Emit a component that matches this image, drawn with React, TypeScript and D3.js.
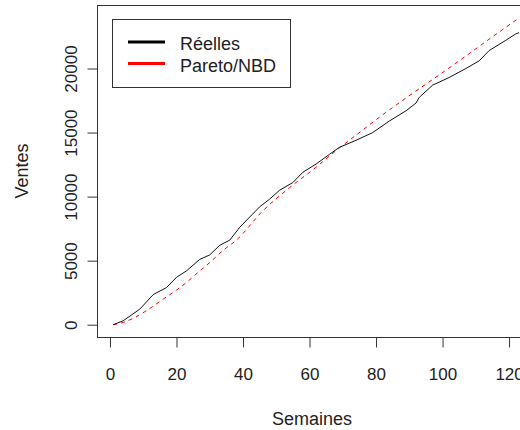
import * as d3 from "d3";
import { useEffect, useRef } from "react";

// weekly cumulative sales
const weeksReel = [1, 4, 9, 13, 17, 20, 23, 27, 30, 33, 36, 39, 42, 45, 48, 51, 55, 58, 62, 66, 69, 74, 79, 84, 89, 92, 93, 97, 102, 107, 111, 114, 119, 122, 123];
const ventesReel = [0, 310, 1220, 2350, 2900, 3700, 4200, 5100, 5450, 6200, 6600, 7600, 8400, 9200, 9800, 10500, 11100, 11900, 12550, 13300, 13850, 14400, 15000, 15900, 16700, 17300, 17750, 18700, 19300, 20000, 20600, 21400, 22200, 22700, 22800];

const weeksModel = [1, 4, 11, 16, 20, 23, 27, 30, 34, 38, 46, 54, 62, 68, 74, 80, 89, 99, 109, 117, 123];
const ventesModel = [0, 180, 1100, 2000, 2700, 3300, 4200, 4850, 5800, 6600, 8900, 10700, 12300, 13600, 14800, 16000, 17700, 19500, 21350, 22850, 23950];

const xTicks = [0, 20, 40, 60, 80, 100, 120];
const yTicks = [0, 5000, 10000, 15000, 20000];
const legendLabels = ["Réelles", "Pareto/NBD"];
const legendColors = ["black", "red"];

const xlim = [1, 123.5];
const ylim = [0, 24000];

export default function App() {
    const ref = useRef<SVGSVGElement>(null);

    useEffect(() => {
        const svg = d3.select(ref.current);
        svg.selectAll("*").remove();

        const left = 97, right = 537, top = 5, bottom = 337;
        const font = "'Liberation Sans', Arial, sans-serif";

        // R style 4% padding on each side
        const padX = (xlim[1] - xlim[0]) * 0.04;
        const padY = (ylim[1] - ylim[0]) * 0.04;
        const x = d3.scaleLinear().domain([xlim[0] - padX, xlim[1] + padX]).range([left, right]);
        const y = d3.scaleLinear().domain([ylim[0] - padY, ylim[1] + padY]).range([bottom, top]);

        const line = d3.line<[number, number]>().x(d => x(d[0])).y(d => y(d[1]));

        svg.append("path")
            .datum(weeksModel.map((w, i) => [w, ventesModel[i]] as [number, number]))
            .attr("d", line.curve(d3.curveMonotoneX))
            .attr("fill", "none")
            .attr("stroke", "red")
            .attr("stroke-width", 1)
            .attr("stroke-dasharray", "4,4");

        svg.append("path")
            .datum(weeksReel.map((w, i) => [w, ventesReel[i]] as [number, number]))
            .attr("d", line.curve(d3.curveLinear))
            .attr("fill", "none")
            .attr("stroke", "#111")
            .attr("stroke-width", 1);

        svg.append("rect")
            .attr("x", left + 0.5).attr("y", top + 0.5)
            .attr("width", right - left).attr("height", bottom - top)
            .attr("fill", "none").attr("stroke", "#333");

        // x axis
        const xa = svg.append("g").attr("transform", `translate(0,${bottom + 0.5})`)
            .call(d3.axisBottom(x).tickValues(xTicks).tickSize(10).tickPadding(20).tickFormat(d3.format("d")));
        xa.select(".domain").remove();
        xa.selectAll("line").attr("stroke", "#333");
        xa.selectAll("text").attr("font-family", font).attr("font-size", 17).attr("fill", "#222");

        // y axis, labels rotated like R's las=0
        const ya = svg.append("g").attr("transform", `translate(${left + 0.5},0)`)
            .call(d3.axisLeft(y).tickValues(yTicks).tickSize(10).tickFormat(d3.format("d")));
        ya.select(".domain").remove();
        ya.selectAll("line").attr("stroke", "#333");
        ya.selectAll("text")
            .attr("font-family", font).attr("font-size", 17).attr("fill", "#222")
            .attr("x", null).attr("dy", null)
            .attr("text-anchor", "middle")
            .attr("transform", "translate(-26,0) rotate(-90)")
            .attr("dy", "0.35em");

        svg.append("text")
            .attr("x", (left + right) / 2 - 5).attr("y", 425)
            .attr("text-anchor", "middle")
            .attr("font-family", font).attr("font-size", 18).attr("fill", "#222")
            .text("Semaines");

        svg.append("text")
            .attr("transform", `translate(28,${(top + bottom) / 2}) rotate(-90)`)
            .attr("text-anchor", "middle")
            .attr("font-family", font).attr("font-size", 18).attr("fill", "#222")
            .text("Ventes");

        // legend
        const lg = svg.append("g");
        lg.append("rect")
            .attr("x", 112.5).attr("y", 19.5).attr("width", 178).attr("height", 68)
            .attr("fill", "white").attr("stroke", "#333");
        legendLabels.forEach((lab, i) => {
            const ly = 42 + i * 21.5;
            lg.append("line")
                .attr("x1", 128).attr("x2", 165).attr("y1", ly).attr("y2", ly)
                .attr("stroke", legendColors[i]).attr("stroke-width", 3);
            lg.append("text")
                .attr("x", 180).attr("y", ly + 8)
                .attr("font-family", font).attr("font-size", 18).attr("fill", "#222")
                .text(lab);
        });
    }, []);

    return (
        <div style={{ position: "absolute", left: 0, top: 0 }}>
            <svg ref={ref} width={520} height={430} style={{ display: "block", background: "white" }}></svg>
        </div>
    );
}
